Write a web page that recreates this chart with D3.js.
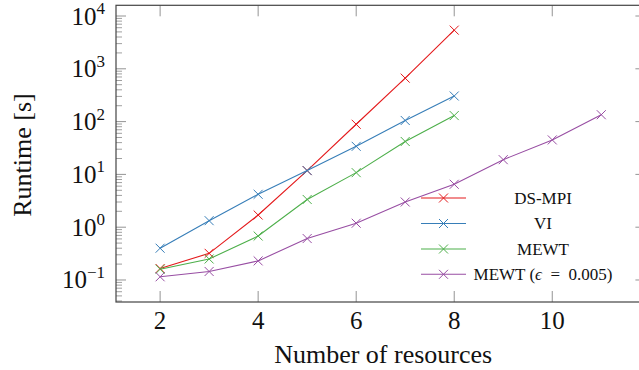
<!DOCTYPE html>
<html><head><meta charset="utf-8">
<script src="https://cdn.jsdelivr.net/npm/d3@7"></script>
<style>
html,body{margin:0;padding:0;background:#fff;}
</style></head>
<body>
<svg id="c" width="639" height="370"></svg>
<script>
const resources = [2,3,4,5,6,7,8,9,10,11];
const dsMpi = [0.165,0.32,1.7,11.8,89,665,5400];
const vi = [0.40,1.33,4.2,11.8,34,105,305];
const mewt = [0.16,0.25,0.68,3.35,10.8,42,130];
const mewtEps = [0.115,0.145,0.23,0.61,1.19,3.0,6.5,19,45,135];
const seriesNames = ["DS-MPI","VI","MEWT","MEWT (ϵ = 0.005)"];
const seriesColors = ["#e41a1c","#377eb8","#4daf4a","#984ea3"];
const xTicks = [2,4,6,8,10];
const yTicksExp = [-1,0,1,2,3,4];

const FF = "'Liberation Serif'";
const svg = d3.select("#c");
const L=116, R=645.4, T=5.3, B=302;
const x = d3.scaleLinear().domain([1.1,11.9]).range([L,R]);
const y = d3.scaleLog().domain([Math.pow(10,-1.4167),Math.pow(10,4.2027)]).range([B,T]);

const series = [dsMpi,vi,mewt,mewtEps].map((vals,i)=>({
  name:seriesNames[i], color:seriesColors[i],
  pts: vals.map((v,j)=>[resources[j],v])
}));

const g = svg.append("g");
const minor=[];
for(let e=-2;e<=4;e++){for(let k=2;k<=9;k++){const v=k*Math.pow(10,e); if(v>y.domain()[0]&&v<y.domain()[1]) minor.push(v);}}
g.selectAll(".mnl").data(minor).enter().append("line")
 .attr("x1",L).attr("x2",L+6).attr("y1",d=>y(d)).attr("y2",d=>y(d)).attr("stroke","#888").attr("stroke-width",0.8);
g.selectAll(".mnr").data(minor).enter().append("line")
 .attr("x1",R).attr("x2",R-6).attr("y1",d=>y(d)).attr("y2",d=>y(d)).attr("stroke","#888").attr("stroke-width",0.8);
const majY = yTicksExp.map(e=>Math.pow(10,e));
g.selectAll(".mjl").data(majY).enter().append("line")
 .attr("x1",L).attr("x2",L+10).attr("y1",d=>y(d)).attr("y2",d=>y(d)).attr("stroke","#888").attr("stroke-width",0.9);
g.selectAll(".mjr").data(majY).enter().append("line")
 .attr("x1",R).attr("x2",R-10).attr("y1",d=>y(d)).attr("y2",d=>y(d)).attr("stroke","#888").attr("stroke-width",0.9);
g.selectAll(".xb").data(xTicks).enter().append("line")
 .attr("x1",d=>x(d)).attr("x2",d=>x(d)).attr("y1",B).attr("y2",B-11).attr("stroke","#888").attr("stroke-width",0.9);
g.selectAll(".xt").data(xTicks).enter().append("line")
 .attr("x1",d=>x(d)).attr("x2",d=>x(d)).attr("y1",T).attr("y2",T+11).attr("stroke","#888").attr("stroke-width",0.9);

g.append("rect").attr("x",L).attr("y",T).attr("width",R-L).attr("height",B-T)
 .attr("fill","none").attr("stroke","#444").attr("stroke-width",1.2);

g.selectAll(".xl").data(xTicks).enter().append("text").style("font-family",FF)
 .attr("x",d=>x(d)).attr("y",329).attr("text-anchor","middle").attr("font-size",25).attr("fill","#111").text(d=>d);
yTicksExp.forEach(e=>{
  const t=g.append("text").style("font-family",FF).attr("x",105).attr("y",y(Math.pow(10,e))+8.5).attr("text-anchor","end").attr("font-size",25).attr("fill","#111");
  t.append("tspan").text("10");
  t.append("tspan").attr("dy",-10.5).attr("font-size",17).text(e<0?"−"+Math.abs(e):String(e));
});
g.append("text").style("font-family",FF).attr("x",x(6.55)).attr("y",363).attr("text-anchor","middle").attr("font-size",26).attr("fill","#111").text("Number of resources");
g.append("text").style("font-family",FF).attr("transform","translate(31,155) rotate(-90)").attr("text-anchor","middle").attr("font-size",26).attr("fill","#111").text("Runtime [s]");

const line = d3.line().x(d=>x(d[0])).y(d=>y(d[1]));
const plot = svg.append("g");
function cross(sel,cx,cy,color,s){
  sel.append("path").attr("d",`M${cx-s},${cy-s}L${cx+s},${cy+s}M${cx-s},${cy+s}L${cx+s},${cy-s}`)
   .attr("stroke",color).attr("stroke-width",1).attr("fill","none");
}
series.forEach(s=>{
  plot.append("path").datum(s.pts).attr("d",line).attr("fill","none").attr("stroke",s.color).attr("stroke-width",1.1);
  s.pts.forEach(p=>cross(plot,x(p[0]),y(p[1]),s.color,4.5));
});

const legY=[198,223.5,249,274.3];
series.forEach((s,i)=>{
  const ly=legY[i];
  svg.append("line").attr("x1",421).attr("x2",466).attr("y1",ly).attr("y2",ly).attr("stroke",s.color).attr("stroke-width",1.1);
  cross(svg,443.5,ly,s.color,4.5);
  const t=svg.append("text").style("font-family",FF).attr("x",543).attr("y",ly+5.5).attr("text-anchor","middle").attr("font-size",17).attr("fill","#111");
  if(i===3){
    t.append("tspan").text("MEWT (");
    t.append("tspan").attr("font-style","italic").text("ϵ");
    t.append("tspan").text("\u2002=\u20020.005)");
  } else t.text(s.name);
});
</script>
</body></html>
